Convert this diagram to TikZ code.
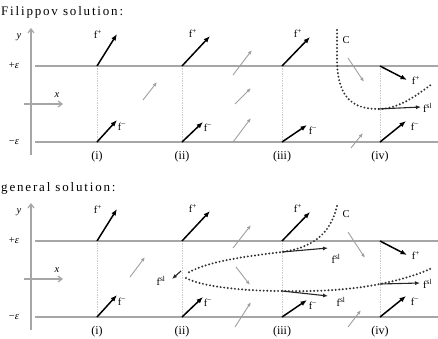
\documentclass[tikz,border=0pt]{standalone}
\usepackage{fontspec}
\setmainfont{Liberation Serif}
\usetikzlibrary{arrows.meta}

\tikzset{
  level/.style={draw=gray!70, line width=1.2pt},
  axis/.style={draw=gray!70, line width=1.2pt, -{Straight Barb[length=4pt,width=6pt]}},
  guide/.style={draw=gray!40, densely dotted, line width=0.7pt},
  fvec/.style={draw=black, line width=1.5pt, -{Latex[length=6.5pt,width=5pt]}},
  slvec/.style={draw=black!85, line width=1.1pt, -{Latex[length=5pt,width=4pt]}},
  grayvec/.style={draw=gray!75, line width=0.9pt, -{Latex[length=4.5pt,width=3.5pt]}},
  curve/.style={draw=black!80, line width=2.2pt, line cap=round, dash pattern=on 0pt off 3.6pt},
  lab/.style={font=\fontsize{10.5}{12}\selectfont, inner sep=0pt},
  casetag/.style={font=\fontsize{12}{14}\selectfont, inner sep=0pt},
  title/.style={font=\fontsize{13}{15}\selectfont\addfontfeatures{LetterSpace=14}, inner sep=0pt, anchor=west},
}

\begin{document}
\begin{tikzpicture}[x=1pt,y=-1pt]
\useasboundingbox (0,0) rectangle (438,339);

% Titles
\node[title] (t1) at (1,12) {Filippov solution:};
\node[title] (t2) at (1,188) {general solution:};

% Parts shared by both panels
\foreach \p/\dy in {a/0,b/175}{
  % axes and the two levels
  \coordinate (\p-ybot) at (31,{155+\dy});
  \coordinate (\p-ytop) at (31,{28+\dy});
  \draw[axis] (\p-ybot) -- (\p-ytop);
  \node[lab] (\p-y) at (19,{37+\dy}) {\textit{y}};
  \node[lab] (\p-hi) at (14,{66+\dy}) {+\textit{ε}};
  \node[lab] (\p-lo) at (14,{142+\dy}) {−\textit{ε}};
  \coordinate (\p-hiL) at (35,{66+\dy});
  \coordinate (\p-hiR) at (438,{66+\dy});
  \coordinate (\p-loL) at (35,{142+\dy});
  \coordinate (\p-loR) at (438,{142+\dy});
  \draw[level] (\p-hiL) -- (\p-hiR);
  \draw[level] (\p-loL) -- (\p-loR);
  \coordinate (\p-xL) at (24,{104+\dy});
  \coordinate (\p-xR) at (63,{104+\dy});
  \draw[axis] (\p-xL) -- (\p-xR);
  \node[lab] (\p-x) at (57,{95+\dy}) {\textit{x}};
  % sample points (i)-(iv)
  \foreach \k/\x/\r in {1/97/i,2/182/ii,3/282/iii,4/380/iv}{
    \coordinate (\p-u\k) at (\x,{66+\dy});
    \coordinate (\p-d\k) at (\x,{142+\dy});
    \draw[guide] (\p-u\k) -- (\p-d\k);
    \node[casetag] (\p-c\k) at (\x,{157+\dy}) {(\r)};
  }
  % f+ above
  \foreach \k/\tx/\ty/\lx/\ly in {1/117/34/98/34,2/210/36/193/33,3/310/37/298/33}{
    \coordinate (\p-fp\k) at (\tx,{\ty+\dy});
    \draw[fvec] (\p-u\k) -- (\p-fp\k);
    \node[lab] (\p-lp\k) at (\lx,{\ly+\dy}) {f\textsuperscript{+}};
  }
  % f- below
  \foreach \k/\tx/\ty/\lx/\ly in {1/117/120/122/127,2/203/122/208/128,3/307/125/313/131,4/406/121/415/127}{
    \coordinate (\p-fm\k) at (\tx,{\ty+\dy});
    \draw[fvec] (\p-d\k) -- (\p-fm\k);
    \node[lab] (\p-lm\k) at (\lx,{\ly+\dy}) {f\textsuperscript{−}};
  }
  % f+ at (iv)
  \coordinate (\p-fp4) at (407,{80+\dy});
  \draw[fvec] (\p-u4) -- (\p-fp4);
  \node[lab] (\p-lp4) at (416,{80+\dy}) {f\textsuperscript{+}};
}

% Filippov panel
\foreach \n/\ax/\ay/\bx/\by in {1/143/100/157/82,2/233/75/252/50,3/235/104/251/88,
                               4/233/142/251/118,5/348/58/364/82,6/351/148/363/133}{
  \coordinate (ga\n) at (\ax,\ay);
  \coordinate (gb\n) at (\bx,\by);
  \draw[grayvec] (ga\n) -- (gb\n);
}
\coordinate (a-c0) at (337,30);
\coordinate (a-s4) at (378,109);
\coordinate (a-c1) at (432,84);
\draw[curve] (a-c0) -- (337,62) .. controls (338,100) and (355,109) .. (a-s4)
  .. controls (400,109) and (418,94) .. (a-c1);
\node[lab] (a-C) at (346,40) {C};
\coordinate (a-sl4) at (421,107);
\draw[slvec] (a-s4) -- (a-sl4);
\node[lab,anchor=west] (a-lsl4) at (423,108) {f\textsuperscript{sl}};

% general panel
\foreach \n/\ax/\ay/\bx/\by in {1/130/277/145/257,2/233/248/251/225,3/236/267/250/285,
                               4/235/327/251/302,5/348/232/365/258,6/348/327/361/310}{
  \coordinate (ha\n) at (\ax,\ay);
  \coordinate (hb\n) at (\bx,\by);
  \draw[grayvec] (ha\n) -- (hb\n);
}
\coordinate (b-c0) at (337,206);
\coordinate (b-s3u) at (282,252);
\coordinate (b-tipu) at (186,274);
\coordinate (b-tipd) at (186,278);
\coordinate (b-s3d) at (282,291);
\coordinate (b-s4) at (380,284);
\coordinate (b-c1) at (432,268);
\draw[curve] (b-c0) .. controls (330,236) and (310,248) .. (b-s3u)
  .. controls (240,257) and (205,262) .. (b-tipu);
\draw[curve] (b-tipd) .. controls (200,286) and (240,291) .. (b-s3d)
  .. controls (330,292) and (360,288) .. (b-s4)
  .. controls (400,280) and (420,274) .. (b-c1);
\node[lab] (b-C) at (346,214) {C};
\coordinate (b-sl3u) at (328,248);
\coordinate (b-sl3d) at (328,296);
\coordinate (b-sl4) at (420,283);
\coordinate (b-sl2a) at (181,271);
\coordinate (b-sl2b) at (172,279);
\draw[slvec] (b-s3u) -- (b-sl3u);
\draw[slvec] (b-s3d) -- (b-sl3d);
\draw[slvec] (b-s4) -- (b-sl4);
\draw[slvec] (b-sl2a) -- (b-sl2b);
\node[lab] (b-lsl3u) at (336,259) {f\textsuperscript{sl}};
\node[lab] (b-lsl3d) at (341,302) {f\textsuperscript{sl}};
\node[lab,anchor=west] (b-lsl4) at (423,284) {f\textsuperscript{sl}};
\node[lab] (b-lsl2) at (161,281) {f\textsuperscript{sl}};
\end{tikzpicture}
\end{document}
